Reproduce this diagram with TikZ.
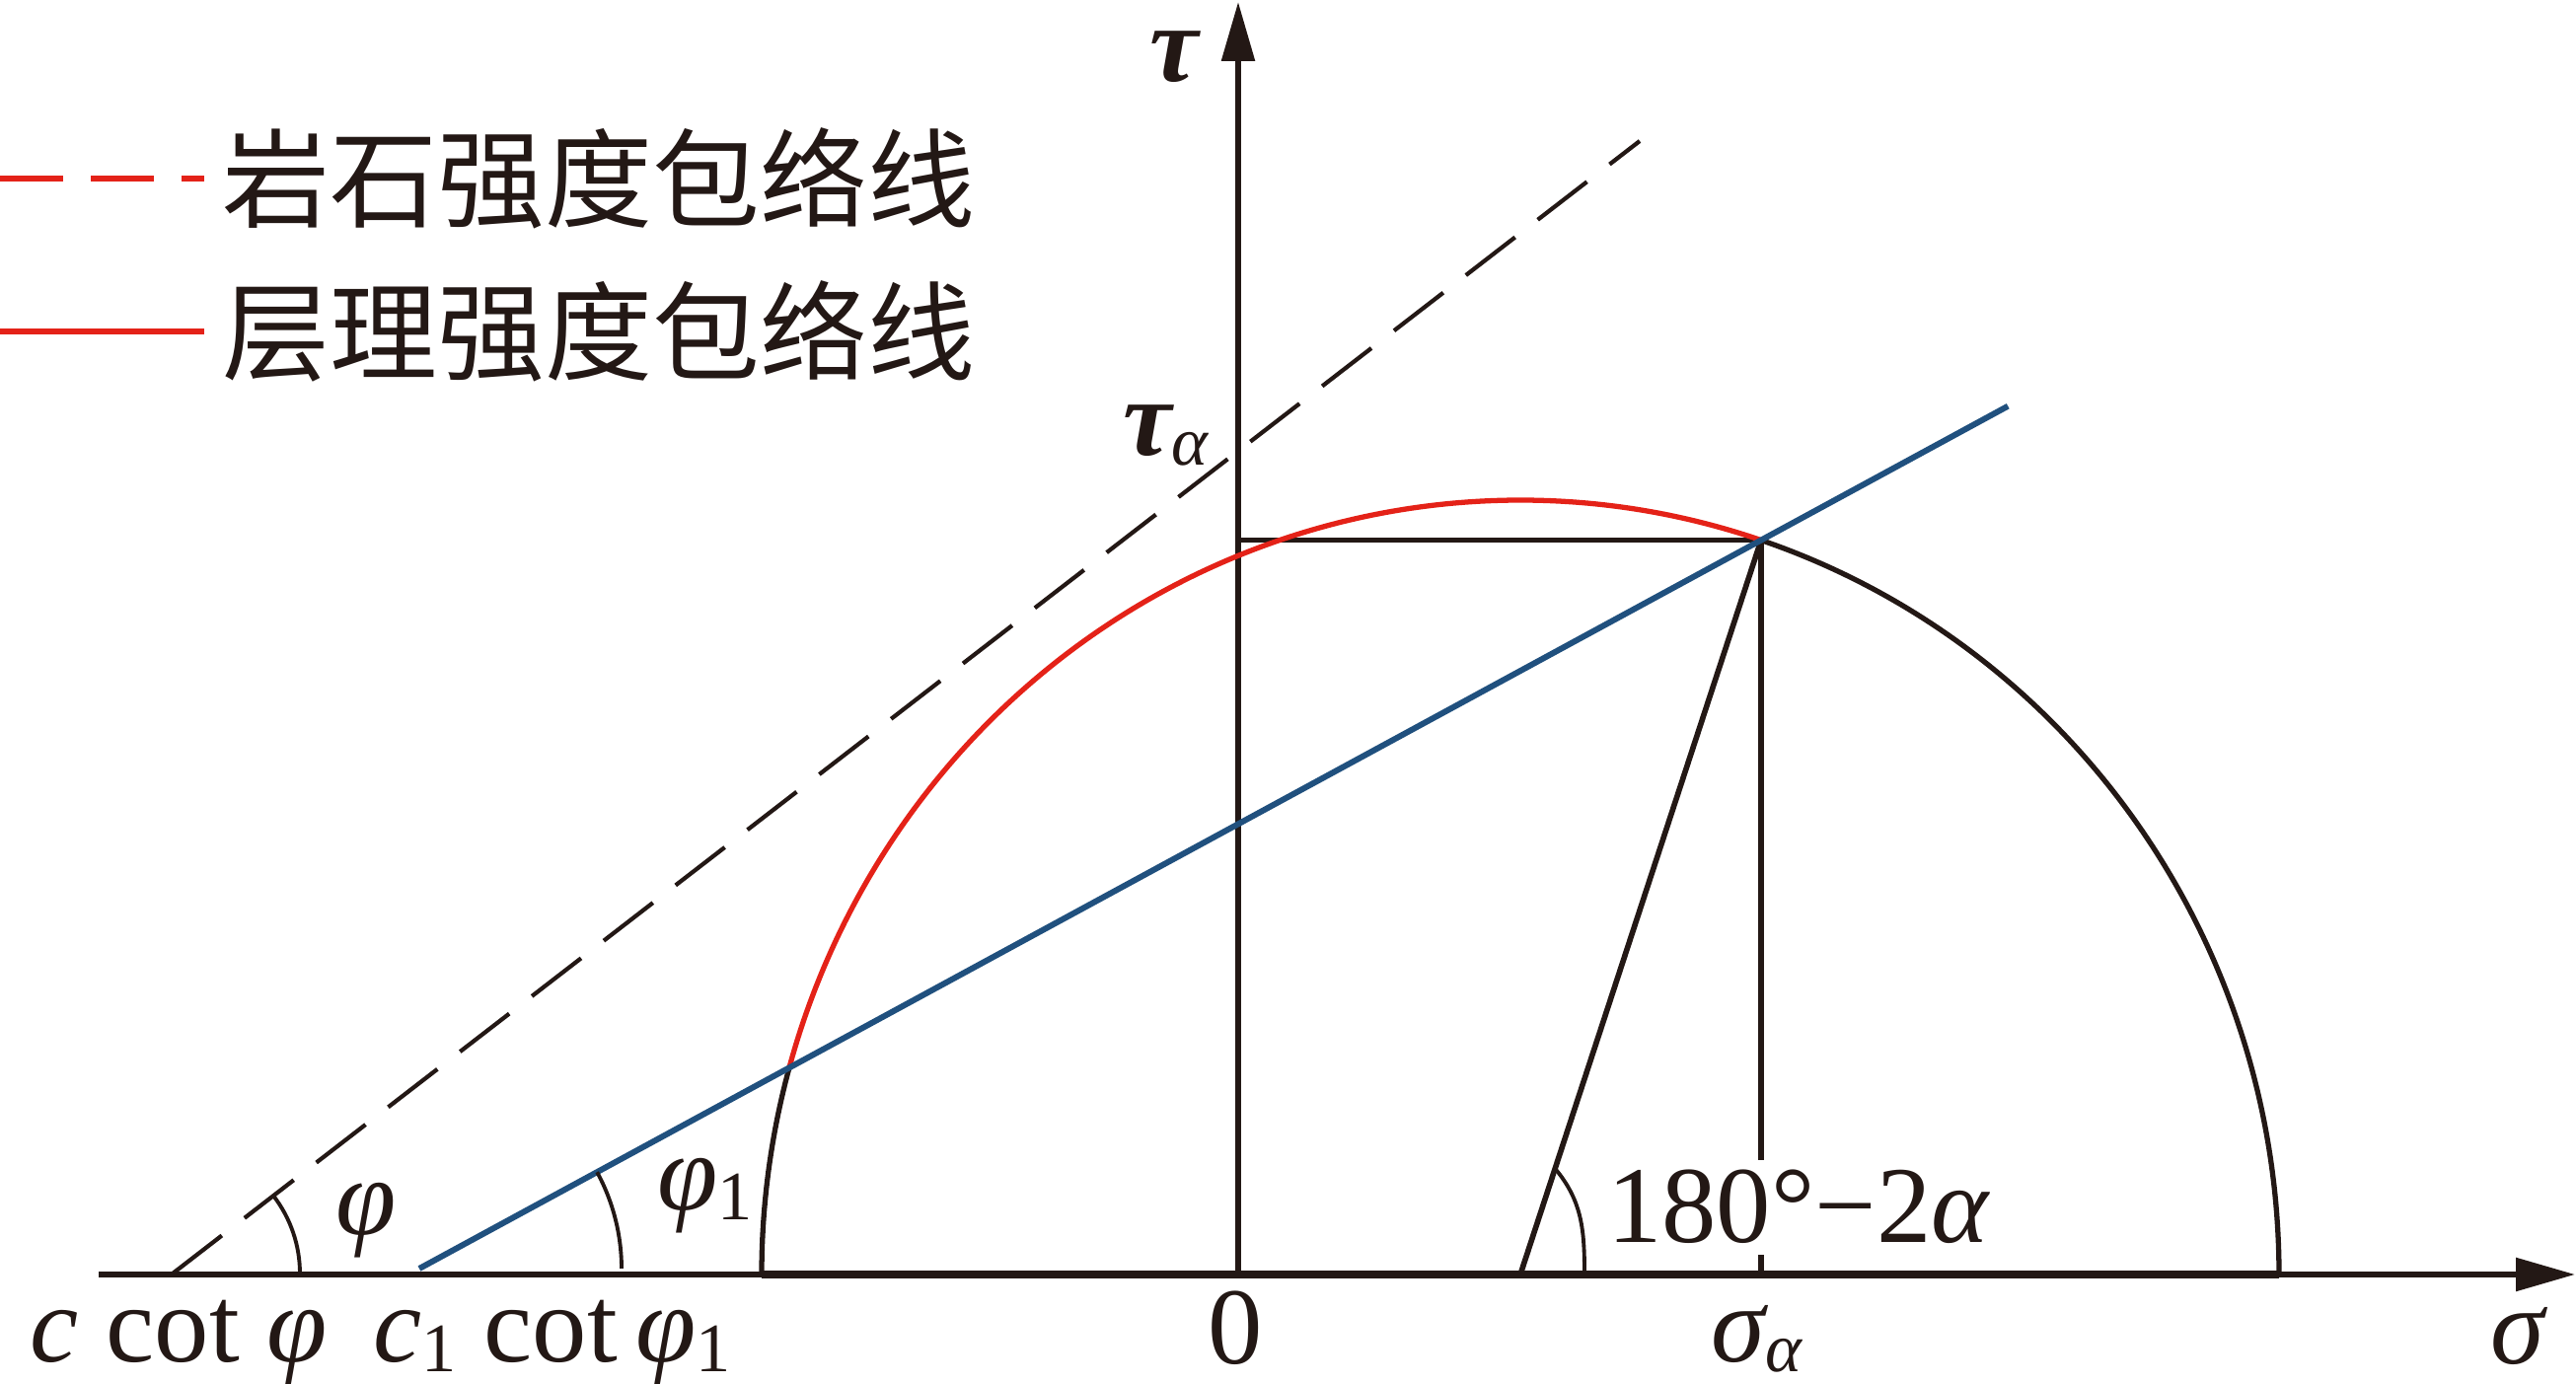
\documentclass[tikz,border=0pt]{standalone}
\usepackage{fontspec}
\setmainfont{Liberation Serif}
\newfontfamily\cjk{Noto Sans CJK SC}
\usepackage{tikz}
\usetikzlibrary{arrows.meta,calc}
\definecolor{inkblack}{RGB}{35,24,21}
\definecolor{envred}{RGB}{228,34,24}
\definecolor{envblue}{RGB}{32,80,126}
\newcommand\subidx[1]{\raisebox{-0.09em}{\fontsize{20}{22}\selectfont #1}}

\begin{document}
\begin{tikzpicture}[
        axisarrow/.style={line width=1.6pt, draw=inkblack, -{Triangle[length=0.6cm,width=0.33cm]}},
        boldline/.style={line width=1.6pt, draw=inkblack},
        anglearc/.style={line width=1.1pt, draw=inkblack},
        lbl/.style={inner sep=0pt, text=inkblack, font=\fontsize{31.5}{36}\selectfont},
        legtext/.style={inner sep=0pt, anchor=west, text=inkblack, font=\fontsize{31}{36}\selectfont\cjk}
    ]
        \useasboundingbox (0,0) rectangle (26.11,14.03);

        % Axes
        \coordinate (S0) at (1.00,1.11);
        \coordinate (S1) at (26.10,1.11);
        \coordinate (O) at (12.55,1.11);
        \coordinate (T1) at (12.55,14.01);
        \draw[axisarrow] (S0) -- (S1);
        \draw[axisarrow] (O) -- (T1);

        % Mohr circle
        \coordinate (C) at (15.41,1.11);
        \coordinate (L) at (7.72,1.11);
        \coordinate (R) at (23.10,1.11);
        \coordinate (P) at ($(C)+(71.5:7.69cm and 7.85cm)$);
        \coordinate (Q) at ($(C)+(164.5:7.69cm and 7.85cm)$);
        \draw[boldline] (O |- P) -- (P);
        \draw[boldline] (P) -- (P |- O);
        \draw[boldline] (C) -- (P);
        \draw[line width=1.5pt, inkblack] (R) arc[start angle=0, end angle=71.5, x radius=7.69, y radius=7.85];
        \draw[line width=1.5pt, envred] (P) arc[start angle=71.5, end angle=164.5, x radius=7.69, y radius=7.85];
        \draw[line width=1.5pt, inkblack] (Q) arc[start angle=164.5, end angle=180, x radius=7.69, y radius=7.85];
        \draw[line width=2.4pt, inkblack] (L) -- (R);

        % Envelopes
        \coordinate (B0) at (4.25,1.17);
        \coordinate (B1) at ($(B0)!1.184!(P)$);
        \coordinate (D0) at (1.75,1.12);
        \coordinate (D1) at (16.62,12.60);
        \draw[line width=1.2pt, inkblack, dash pattern=on 0.63cm off 0.29cm] (D0) -- (D1);
        \draw[line width=1.7pt, envblue] (B0) -- (B1);

        % Angles
        \draw[anglearc] ($(D0)+(1.29,0)$) arc[start angle=0, end angle=37.7, radius=1.29];
        \draw[anglearc] ($(B0)+(2.05,0)$) arc[start angle=0, end angle=28.5, radius=2.05];
        \coordinate (A1) at ($(C)!1.13cm!(P)$);
        \coordinate (A2) at ($(C)+(0.65,0)$);
        \draw[anglearc] (A1) to[out=-50, in=90] (A2);

        % Labels
        \node[lbl, anchor=base east] (tau) at (12.15,13.20) {\bfseries\itshape τ};
        \node[lbl, anchor=base east] (tauA) at (12.25,9.41) {{\bfseries\itshape τ}\subidx{\itshape α}};
        \node[lbl, anchor=base west] (phi) at (3.40,1.51) {\itshape φ};
        \node[lbl, anchor=base west] (phi1) at (6.66,1.76) {{\itshape φ}\subidx{1}};
        \node[lbl, anchor=base west, fill=white, inner sep=3pt] (ang) at (16.18,1.43) {180°−2{\itshape α}};
        \node[lbl, anchor=base west] (ccot) at (0.30,0.22) {{\itshape c} cot {\itshape φ}};
        \node[lbl, anchor=base west] (c1cot) at (3.78,0.22) {{\itshape c}\subidx{1} cot\,{\itshape φ}\subidx{1}};
        \node[lbl, anchor=base] (zero) at (12.52,0.20) {0};
        \node[lbl, anchor=base west] (sigA) at (17.34,0.22) {{\itshape σ}\subidx{\itshape α}};
        \node[lbl, anchor=base] (sig) at (25.52,0.20) {\itshape σ};

        % Legend
        \node[legtext] (leg1) at (2.25,12.22) {岩石强度包络线};
        \node[legtext] (leg2) at (2.25,10.67) {层理强度包络线};
        \coordinate (k1) at (0,12.22);
        \coordinate (k2) at (0,10.67);
        \draw[line width=1.5pt, envred, dash pattern=on 0.64cm off 0.28cm] (k1) -- ([xshift=-0.18cm]leg1.west);
        \draw[line width=1.5pt, envred] (k2) -- ([xshift=-0.18cm]leg2.west);
    \end{tikzpicture}
\end{document}
